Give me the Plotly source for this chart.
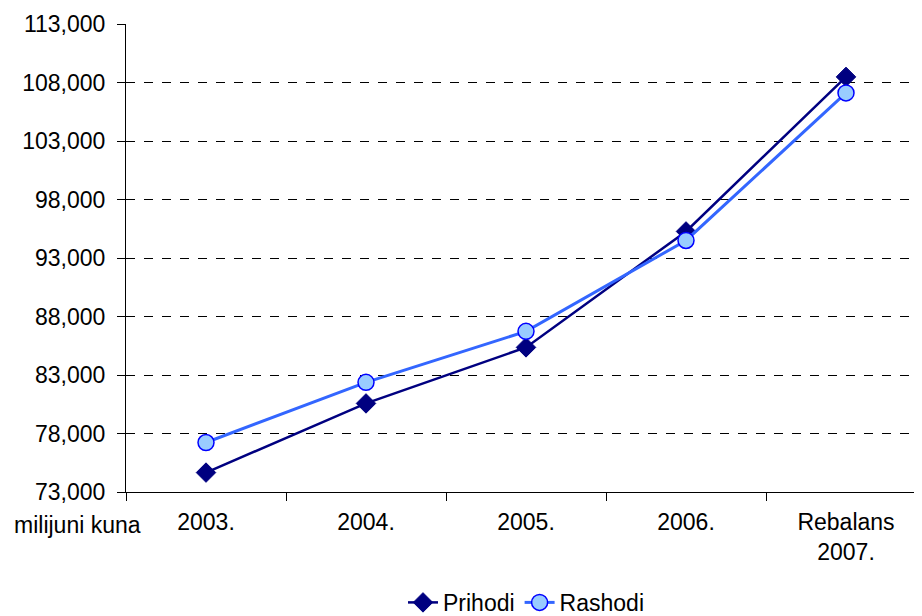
import plotly.graph_objects as go

categories = ["2003.", "2004.", "2005.", "2006.", "Rebalans<br>2007."]
prihodi = [74660, 80570, 85360, 95270, 108480]
rashodi = [77230, 82370, 86730, 94500, 107110]
y_ticks = [73000, 78000, 83000, 88000, 93000, 98000, 103000, 108000, 113000]
y_labels = [f"{v:,}" for v in y_ticks]

fig = go.Figure()
fig.add_trace(go.Scatter(
    x=categories, y=prihodi, name="Prihodi", mode="lines+markers",
    line=dict(color="#000080", width=2.5),
    marker=dict(symbol="diamond", size=15, color="#000080", line=dict(color="#000080", width=1)),
))
fig.add_trace(go.Scatter(
    x=categories, y=rashodi, name="Rashodi", mode="lines+markers",
    line=dict(color="#3366FF", width=3),
    marker=dict(symbol="circle", size=16, color="#99CCFF", line=dict(color="#0000FF", width=1.5)),
))

fig.update_layout(
    width=922, height=608,
    margin=dict(l=118, r=0, t=16, b=124, autoexpand=False),
    paper_bgcolor="white", plot_bgcolor="white",
    font=dict(family="Liberation Sans, Arial, sans-serif", size=23, color="black"),
    showlegend=True,
    legend=dict(orientation="h", x=0.4975, xanchor="center", y=-0.236, yanchor="middle",
                font=dict(size=23), tracegroupgap=0),
    xaxis=dict(
        type="category", range=[-0.5, 4.525], automargin=False,
        showline=True, linecolor="black", linewidth=1,
        ticks="outside", ticklen=8, tickcolor="black", tickson="boundaries",
        showgrid=False, tickfont=dict(size=23), ticklabelstandoff=9,
    ),
    yaxis=dict(
        range=[73000, 113000], tickvals=y_ticks, ticktext=y_labels, automargin=False,
        showline=True, linecolor="black", linewidth=1,
        ticks="outside", ticklen=8, tickcolor="black",
        showgrid=True, gridcolor="black", griddash="dash", gridwidth=1,
        zeroline=False, tickfont=dict(size=23), ticklabelstandoff=7,
    ),
    annotations=[dict(text="milijuni kuna", xref="paper", yref="paper",
                      x=-0.0603, y=-0.0705, xanchor="center", yanchor="middle",
                      showarrow=False, font=dict(size=23))],
)

fig.write_html("out.html")
